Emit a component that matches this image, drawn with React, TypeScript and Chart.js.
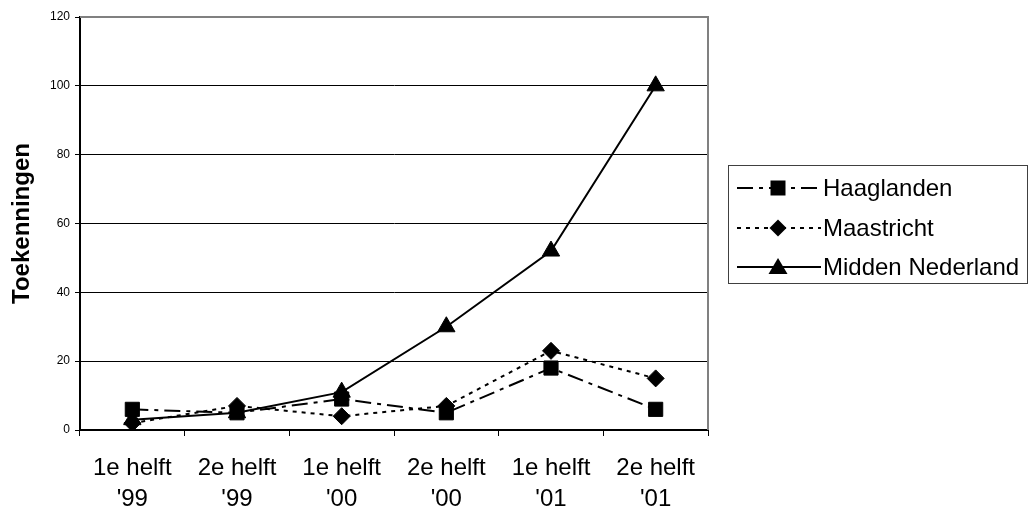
import React, { useEffect, useRef } from "react";
import { Chart, registerables } from "chart.js";

Chart.register(...registerables);

const categories: string[][] = [
  ["1e helft", "'99"],
  ["2e helft", "'99"],
  ["1e helft", "'00"],
  ["2e helft", "'00"],
  ["1e helft", "'01"],
  ["2e helft", "'01"],
];
const haaglanden = [6, 5, 9, 5, 18, 6];
const maastricht = [2, 7, 4, 7, 23, 15];
const middenNederland = [3, 5, 11, 30, 52, 100];
const seriesNames = ["Haaglanden", "Maastricht", "Midden Nederland"];
const yTicks = [0, 20, 40, 60, 80, 100, 120];
const yTitle = "Toekenningen";

const FONT = "Arial, 'Liberation Sans', sans-serif";

const dashes: number[][] = [[16, 6, 4, 6], [4, 5], []];
const styles = ["rect", "rectRot", "triangle"];

function drawMarker(ctx: CanvasRenderingContext2D, style: string, x: number, y: number) {
  ctx.beginPath();
  if (style === "rect") {
    ctx.rect(x - 7.5, y - 7.5, 15, 15);
  } else if (style === "rectRot") {
    ctx.moveTo(x, y - 8.5);
    ctx.lineTo(x + 8.5, y);
    ctx.lineTo(x, y + 8.5);
    ctx.lineTo(x - 8.5, y);
    ctx.closePath();
  } else {
    ctx.moveTo(x, y - 9);
    ctx.lineTo(x + 9.5, y + 7);
    ctx.lineTo(x - 9.5, y + 7);
    ctx.closePath();
  }
  ctx.fillStyle = "#000";
  ctx.fill();
}

const framePlugin = {
  id: "frame",
  beforeDatasetsDraw(chart: any) {
    const { ctx, chartArea } = chart;
    ctx.save();
    ctx.strokeStyle = "#808080";
    ctx.lineWidth = 2;
    ctx.beginPath();
    ctx.moveTo(chartArea.left, chartArea.top);
    ctx.lineTo(chartArea.right, chartArea.top);
    ctx.lineTo(chartArea.right, chartArea.bottom);
    ctx.stroke();
    ctx.restore();
  },
  afterDraw(chart: any) {
    const { ctx } = chart;
    ctx.save();
    ctx.strokeStyle = "#404040";
    ctx.lineWidth = 1;
    ctx.strokeRect(728.5, 165.5, 299, 118);
    const ys = [188, 228, 267];
    seriesNames.forEach((name, i) => {
      const y = ys[i];
      ctx.strokeStyle = "#000";
      ctx.lineWidth = 2;
      ctx.setLineDash(dashes[i]);
      ctx.beginPath();
      ctx.moveTo(737, y);
      ctx.lineTo(821, y);
      ctx.stroke();
      ctx.setLineDash([]);
      drawMarker(ctx, styles[i], 778, y);
      ctx.fillStyle = "#000";
      ctx.font = `24px ${FONT}`;
      ctx.textAlign = "left";
      ctx.textBaseline = "middle";
      ctx.fillText(name, 823, y + 1);
    });
    ctx.restore();
  },
};

export default function App() {
  const ref = useRef<HTMLCanvasElement | null>(null);
  useEffect(() => {
    if (!ref.current) return;
    const values = [haaglanden, maastricht, middenNederland];
    const radii = [10, 8.5, 10];
    const chart = new Chart(ref.current, {
      type: "line",
      data: {
        labels: categories,
        datasets: seriesNames.map((name, i) => ({
          label: name,
          data: values[i],
          borderColor: "#000",
          backgroundColor: "#000",
          borderWidth: 2,
          borderDash: dashes[i],
          pointStyle: styles[i] as any,
          pointRadius: radii[i],
          pointBorderWidth: 1,
          pointBackgroundColor: "#000",
          pointBorderColor: "#000",
          tension: 0,
          fill: false,
        })),
      },
      options: {
        animation: false,
        responsive: false,
        devicePixelRatio: 1,
        layout: { padding: { left: 0, right: 322, top: 17, bottom: 0 } },
        plugins: {
          legend: { display: false },
          tooltip: { enabled: false },
        },
        scales: {
          x: {
            type: "category",
            offset: true,
            afterFit: (s: any) => {
              s.height = 80;
            },
            grid: {
              display: true,
              drawOnChartArea: false,
              drawTicks: true,
              tickLength: 6,
              offset: true,
              color: "#000",
              tickColor: "#000",
              tickWidth: 1,
            },
            border: { display: true, color: "#000", width: 2 },
            ticks: {
              color: "#000",
              font: { family: FONT, size: 24, lineHeight: 1.3 },
              padding: 17,
              maxRotation: 0,
              autoSkip: false,
            },
          },
          y: {
            min: 0,
            max: 120,
            afterFit: (s: any) => {
              s.width = 80;
            },
            afterBuildTicks: (s: any) => {
              s.ticks = yTicks.map((v) => ({ value: v }));
            },
            grid: {
              color: (c: any) =>
                c.tick && (c.tick.value === 0 || c.tick.value === 120) ? "rgba(0,0,0,0)" : "#000",
              tickColor: "#000",
              tickLength: 5,
              lineWidth: 1,
            },
            border: { display: true, color: "#000", width: 2 },
            ticks: {
              color: "#000",
              font: { family: FONT, size: 12 },
              padding: 5,
            },
            title: {
              display: true,
              text: yTitle,
              color: "#000",
              font: { family: FONT, size: 24, weight: "bold" },
              padding: { top: 8, bottom: 0 },
            },
          },
        },
      },
      plugins: [framePlugin],
    });
    return () => chart.destroy();
  }, []);
  return (
    <div style={{ position: "fixed", left: 0, top: 0, width: 1030, height: 510, background: "#fff" }}>
      <canvas ref={ref} width={1030} height={510} />
    </div>
  );
}
